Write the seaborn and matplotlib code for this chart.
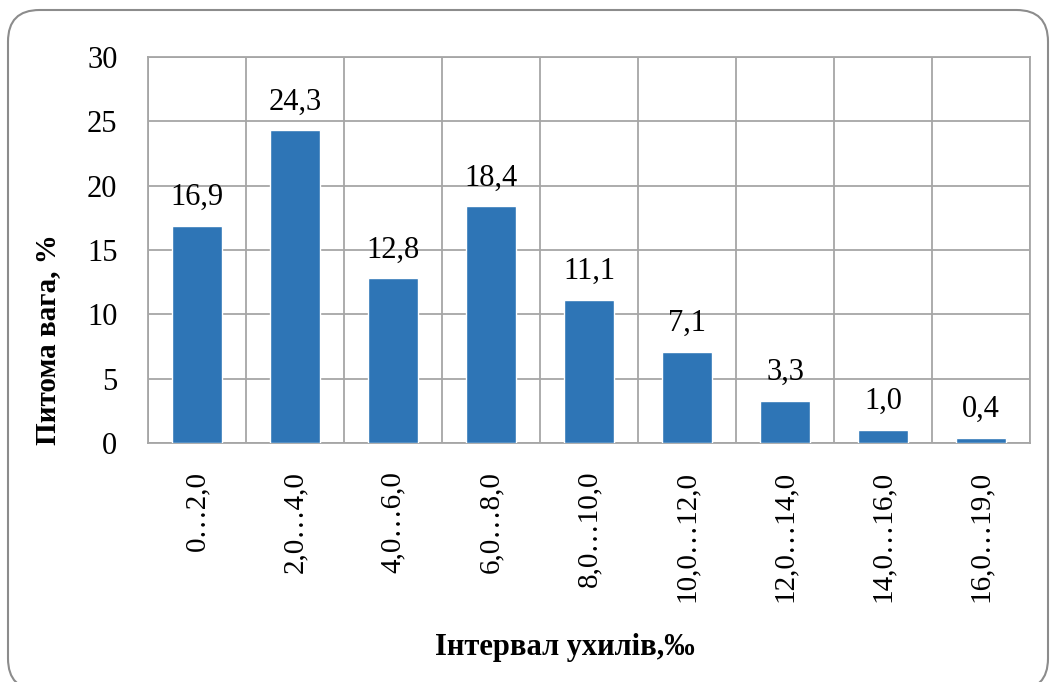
import numpy as np
import pandas as pd
import matplotlib
matplotlib.use("Agg")
import matplotlib.pyplot as plt
import seaborn as sns
from matplotlib.patches import FancyBboxPatch
from matplotlib.ticker import MultipleLocator, FixedLocator

# data
categories = ["0…2,0", "2,0…4,0", "4,0…6,0", "6,0…8,0", "8,0…10,0",
              "10,0…12,0", "12,0…14,0", "14,0…16,0", "16,0…19,0"]
shares = [16.9, 24.3, 12.8, 18.4, 11.1, 7.1, 3.3, 1.0, 0.4]

df = pd.DataFrame({"interval": categories, "share": shares})

sns.set_style("white")
plt.rcParams['font.family'] = ['Liberation Serif', 'DejaVu Serif']
plt.rcParams['text.color'] = 'black'
plt.rcParams['xtick.labelcolor'] = 'black'
plt.rcParams['ytick.labelcolor'] = 'black'

grid_c = "#a6a6a6"
bar_c = "#2e75b6"

fig = plt.figure(figsize=(10.51, 6.82), dpi=100)
ax = fig.add_axes([148 / 1051, 1 - 443 / 682, 882 / 1051, 386 / 682])

sns.barplot(data=df, x="interval", y="share", color=bar_c, width=0.51,
            saturation=1, ax=ax, zorder=3)

ax.set_xlim(-0.5, len(categories) - 0.5)
ax.set_ylim(0, 30)
ax.yaxis.set_major_locator(MultipleLocator(5))
ax.xaxis.set_minor_locator(FixedLocator(np.arange(-0.5, len(categories), 1.0)))

ax.grid(axis="y", which="major", color=grid_c, linewidth=1.3, zorder=0)
ax.grid(axis="x", which="minor", color=grid_c, linewidth=1.3, zorder=0)
ax.grid(axis="x", which="major", visible=False)
ax.set_axisbelow(True)

for s in ax.spines.values():
    s.set_color(grid_c)
    s.set_linewidth(1.3)

ax.tick_params(axis="y", length=0, pad=22, labelsize=22, labelcolor="black")
ax.tick_params(axis="x", which="major", direction="in", length=7, width=1.3,
               color=grid_c, pad=20, labelsize=21, labelrotation=90,
               labelcolor="black")
ax.tick_params(axis="x", which="minor", direction="out", length=9, width=1.3,
               color=grid_c)
for lab in ax.get_xticklabels():
    lab.set_verticalalignment("top")

ax.set_xlabel("")
ax.set_ylabel("")

labels = [f"{v:.1f}".replace(".", ",") for v in shares]
ax.bar_label(ax.containers[0], labels=labels, padding=10, fontsize=22,
             color="black")

fig.text(48 / 1051, 1 - 340 / 682, "Питома вага, %", rotation=90,
         ha="center", va="center", fontsize=21, fontweight="bold")
fig.text(565 / 1051, 1 - 648 / 682, "Інтервал ухилів,‰",
         ha="center", va="center", fontsize=22, fontweight="bold")

frame = FancyBboxPatch((8 / 1051, 1 - 690 / 682), 1040 / 1051, 680 / 682,
                       boxstyle="round,pad=0,rounding_size=0.03",
                       transform=fig.transFigure, facecolor="none",
                       edgecolor="#8c8c8c", linewidth=1.5, zorder=0,
                       mutation_aspect=1051 / 682)
fig.patches.append(frame)

fig.savefig("out.png", dpi=100)
